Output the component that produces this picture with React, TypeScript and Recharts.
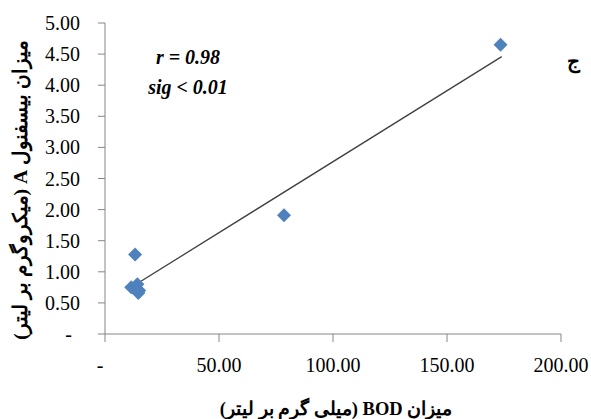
import React from 'react';
import {
  ScatterChart,
  Scatter,
  XAxis,
  YAxis,
} from 'recharts';

// BOD (mg/L) vs bisphenol A (µg/L)
const bodValues = [173.5, 78.5, 13.2, 11.5, 14.2, 15.0, 14.6];
const bpaValues = [4.65, 1.91, 1.28, 0.75, 0.80, 0.70, 0.66];

// fitted trend line end points
const trendX = [11.7, 174];
const trendY = [0.755, 4.46];

const xTicks = [0, 50, 100, 150, 200];
const yTicks = [0, 0.5, 1, 1.5, 2, 2.5, 3, 3.5, 4, 4.5, 5];

const xTitle = 'میزان BOD (میلی گرم بر لیتر)';
const yTitle = 'میزان بیسفنول A (میکروگرم بر لیتر)';

const points = bodValues.map((x, i) => ({ x, y: bpaValues[i] }));
const trend = trendX.map((x, i) => ({ x, y: trendY[i] }));

const FONT = 'Liberation Serif, DejaVu Serif, serif';
const AXIS = '#868686';

const Diamond = (props: any) => {
  const { cx, cy } = props;
  const r = 7;
  return (
    <path
      d={`M${cx},${cy - r}L${cx + r},${cy}L${cx},${cy + r}L${cx - r},${cy}Z`}
      fill="#4F81BD"
    />
  );
};

const fmt = (v: number) => (v === 0 ? '-' : v.toFixed(2));

const tickStyle: React.CSSProperties = { fontFamily: FONT, fontSize: 20 };

const YTick = (props: any) => {
  const { x, y, payload } = props;
  const zero = payload.value === 0;
  return (
    <text x={zero ? x - 8 : x} y={y} dy={7} textAnchor="end" style={tickStyle} fill="#000">
      {fmt(payload.value)}
    </text>
  );
};

const XTick = (props: any) => {
  const { x, y, payload } = props;
  const zero = payload.value === 0;
  return (
    <text x={zero ? x - 5 : x} y={y} dy={24} textAnchor="middle" style={tickStyle} fill="#000">
      {fmt(payload.value)}
    </text>
  );
};

const noteStyle: React.CSSProperties = {
  fontFamily: FONT,
  fontSize: 20,
  fontWeight: 'bold',
  fontStyle: 'italic',
};

const titleStyle: React.CSSProperties = {
  fontFamily: FONT,
  fontWeight: 'bold',
  direction: 'rtl',
  textAnchor: 'middle',
};

export default function App() {
  return (
    <div style={{ position: 'absolute', left: 0, top: 0, width: 591, height: 419, background: '#fff', fontFamily: FONT }}>
      <ScatterChart width={591} height={419} margin={{ top: 23, right: 30, bottom: 25, left: 20 }}>
        <XAxis
          type="number"
          dataKey="x"
          domain={[0, 200]}
          ticks={xTicks}
          interval={0}
          stroke={AXIS}
          tickSize={8}
          tickMargin={6}
          height={60}
          tick={<XTick />}
        />
        <YAxis
          type="number"
          dataKey="y"
          domain={[0, 5]}
          ticks={yTicks}
          interval={0}
          stroke={AXIS}
          tickSize={7}
          tickMargin={18}
          width={85}
          tick={<YTick />}
        />
        <Scatter
          data={trend}
          line={{ stroke: '#404040', strokeWidth: 1.3 }}
          shape={() => <g />}
          isAnimationActive={false}
        />
        <Scatter data={points} shape={<Diamond />} isAnimationActive={false} />
        <text x={336} y={409} dominantBaseline="central" style={{ ...titleStyle, fontSize: 18.5 }}>
          {xTitle}
        </text>
        <text
          x={20}
          y={190}
          dominantBaseline="central"
          transform="rotate(-90, 20, 190)"
          style={{ ...titleStyle, fontSize: 19.5 }}
        >
          {yTitle}
        </text>
        <text x={188} y={64} textAnchor="middle" style={noteStyle}>
          r = 0.98
        </text>
        <text x={188} y={94} textAnchor="middle" style={noteStyle}>
          sig &lt; 0.01
        </text>
        <text x={573} y={68} textAnchor="middle" style={{ fontFamily: FONT, fontSize: 20, fontWeight: 'bold' }}>
          ج
        </text>
      </ScatterChart>
    </div>
  );
}
